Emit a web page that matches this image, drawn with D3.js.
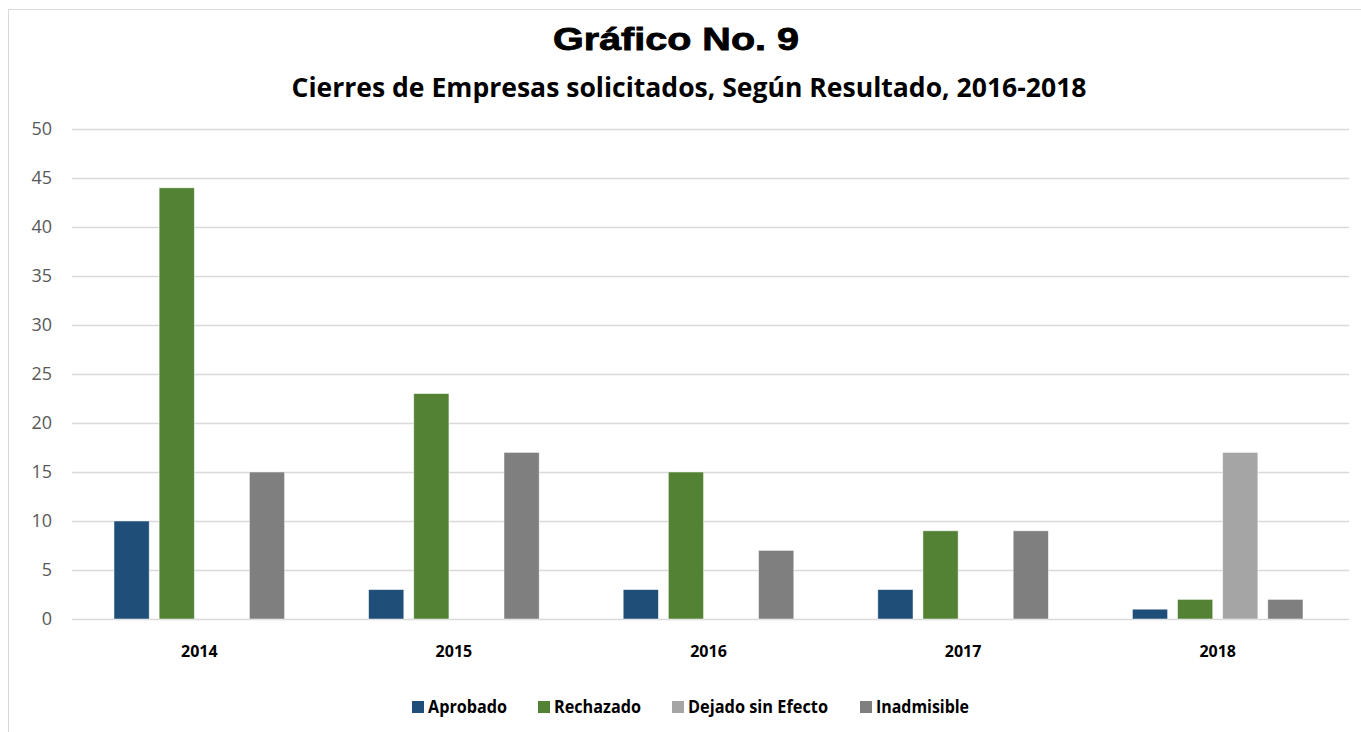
<!DOCTYPE html>
<html>
<head>
<meta charset="utf-8">
<script src="https://cdn.jsdelivr.net/npm/d3@7"></script>
<style>
  html, body { margin: 0; padding: 0; background: #fff; }
  svg { display: block; }
</style>
</head>
<body>
<svg id="chart" width="1361" height="732"></svg>
<script>
// data
const YEARS = ['2014', '2015', '2016', '2017', '2018'];
const SERIES = ['Aprobado', 'Rechazado', 'Dejado sin Efecto', 'Inadmisible'];
const COLORS = ['#1f4e79', '#548235', '#a5a5a5', '#7f7f7f'];
const APROBADO = [10, 3, 3, 3, 1];
const RECHAZADO = [44, 23, 15, 9, 2];
const DEJADO = [0, 0, 0, 0, 17];
const INADMISIBLE = [15, 17, 7, 9, 2];
const Y_TICKS = [0, 5, 10, 15, 20, 25, 30, 35, 40, 45, 50];

const VALS = [APROBADO, RECHAZADO, DEJADO, INADMISIBLE];
const rows = YEARS.map((y, i) => ({ year: y, vals: SERIES.map((s, k) => ({ s, k, v: VALS[k][i] })) }));

const svg = d3.select('#chart');
const FONT = '"Open Sans", "DejaVu Sans", sans-serif';

// chart frame
svg.append('rect').attr('x', 8.5).attr('y', 9.5).attr('width', 1370).attr('height', 740)
  .attr('fill', '#fff').attr('stroke', '#d9d9d9').attr('stroke-width', 1);

const L = 72, R = 1345, T = 129, B = 619;

const y = d3.scaleLinear().domain([0, 50]).range([B, T]);
const x0 = d3.scaleBand().domain(YEARS).range([L, R]);
const x1 = d3.scaleBand().domain(SERIES)
  .range([x0.bandwidth() * 0.165, x0.bandwidth() * 0.835]).paddingInner(0.22);

// gridlines
svg.append('g').selectAll('line').data(Y_TICKS).join('line')
  .attr('x1', L).attr('x2', 1349)
  .attr('y1', d => Math.round(y(d)) + 0.5).attr('y2', d => Math.round(y(d)) + 0.5)
  .attr('stroke', '#d9d9d9').attr('stroke-width', 1.3);

// y axis labels
const yAx = svg.append('g').attr('transform', `translate(${L},0)`)
  .call(d3.axisLeft(y).tickValues(Y_TICKS).tickSize(0).tickPadding(20));
yAx.select('.domain').remove();
yAx.selectAll('text').attr('font-family', FONT).attr('font-size', 18).attr('fill', '#595959');

// bars
const g = svg.append('g').selectAll('g').data(rows).join('g')
  .attr('transform', d => `translate(${x0(d.year)},0)`);
g.selectAll('rect').data(d => d.vals.filter(v => v.v > 0)).join('rect')
  .attr('x', d => x1(d.s)).attr('width', x1.bandwidth())
  .attr('y', d => y(d.v)).attr('height', d => y(0) - y(d.v))
  .attr('fill', d => COLORS[d.k])
  .attr('stroke', '#fff').attr('stroke-opacity', 0.6).attr('stroke-width', 0.8);

// x axis labels
const xAx = svg.append('g').attr('transform', `translate(0,${B})`)
  .call(d3.axisBottom(x0).tickSize(0).tickPadding(0));
xAx.select('.domain').remove();
xAx.selectAll('text').attr('dy', null).attr('y', 38)
  .attr('font-family', FONT).attr('font-size', 16)
  .attr('font-weight', 'bold').attr('fill', '#000');

// titles
svg.append('text').attr('x', 676).attr('y', 50).attr('text-anchor', 'middle')
  .attr('font-family', '"Liberation Sans", Arial, sans-serif').attr('font-weight', 900)
  .attr('font-size', 31).attr('fill', '#000').attr('stroke', '#000').attr('stroke-width', 0.8)
  .attr('textLength', 246).attr('lengthAdjust', 'spacingAndGlyphs')
  .text('Gráfico No. 9');
svg.append('text').attr('x', 689).attr('y', 97).attr('text-anchor', 'middle')
  .attr('font-family', FONT).attr('font-weight', 'bold')
  .attr('font-size', 26).attr('fill', '#000')
  .attr('textLength', 795).attr('lengthAdjust', 'spacingAndGlyphs')
  .text('Cierres de Empresas solicitados, Según Resultado, 2016-2018');

// legend
const LEG_X = [412, 538, 672, 860];
const LEG_W = [79, 87, 140, 93];
const leg = svg.append('g').selectAll('g').data(SERIES).join('g')
  .attr('transform', (d, i) => `translate(${LEG_X[i]},701)`);
leg.append('rect').attr('x', 0).attr('y', 0).attr('width', 12).attr('height', 12)
  .attr('fill', (d, i) => COLORS[i]);
leg.append('text').attr('x', 16).attr('y', 11.5)
  .attr('font-family', FONT).attr('font-size', 17).attr('font-weight', 'bold').attr('fill', '#000')
  .attr('textLength', (d, i) => LEG_W[i]).attr('lengthAdjust', 'spacingAndGlyphs')
  .text(d => d);
</script>
</body>
</html>
